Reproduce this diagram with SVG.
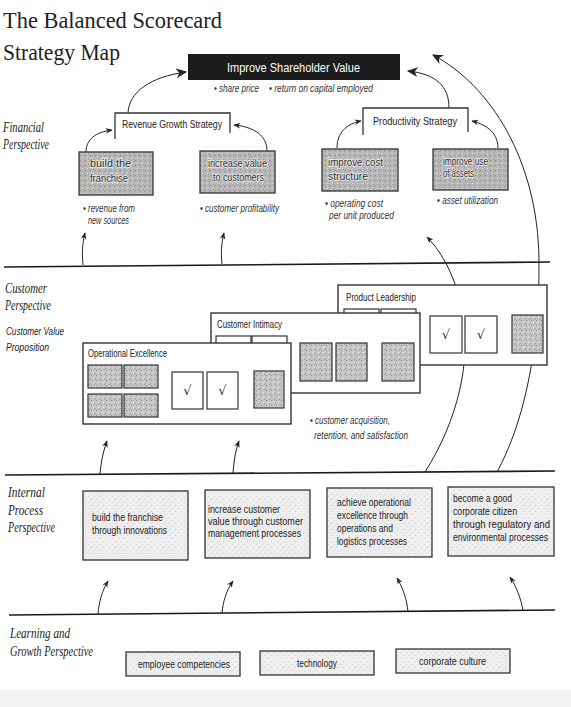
<svg xmlns="http://www.w3.org/2000/svg" width="571" height="707" viewBox="0 0 571 707">
<style>
.ttl{font-family:"Liberation Serif","Times New Roman",serif;font-size:23px;fill:#222}
.persp{font-family:"Liberation Serif","Times New Roman",serif;font-style:italic;font-size:14px;fill:#222}
.cvp{font-family:"Liberation Sans",Arial,sans-serif;font-style:italic;font-size:11px;fill:#222}
.bx{font-family:"Liberation Sans",Arial,sans-serif;font-size:10.5px;fill:#222}
.fin{font-family:"Liberation Sans",Arial,sans-serif;font-size:11px;fill:#2a2a2a;stroke:#eeeeee;stroke-width:1.6px;paint-order:stroke}
.hd{font-family:"Liberation Sans",Arial,sans-serif;font-size:11px;fill:#222}
.sm{font-family:"Liberation Sans",Arial,sans-serif;font-style:italic;font-size:10px;fill:#333}
.cbt{font-family:"Liberation Sans",Arial,sans-serif;font-size:10px;fill:#222}
.chk{font-family:"DejaVu Sans",sans-serif;font-size:13px;fill:#333}
.sep{stroke:#1a1a1a;stroke-width:1.6;fill:none}
.con{stroke:#222;stroke-width:1;fill:none}
.big{marker-end:url(#ah)}
.small{marker-end:url(#as)}
.frame{fill:#fff;stroke:#333;stroke-width:1.4}
.dark{fill:url(#dk);stroke:#333;stroke-width:1.3}
.mid{fill:url(#md);stroke:#333;stroke-width:1.2}
.light{fill:url(#lt);stroke:#333;stroke-width:1.3}
.ck{fill:#fff;stroke:#333;stroke-width:1.2}
.brk{fill:none;stroke:#333;stroke-width:1.3}
</style>
<defs>
<pattern id="dk" width="5" height="5" patternUnits="userSpaceOnUse">
<rect width="5" height="5" fill="#b8b8b8"/><rect x="0" y="0" width="1" height="1" fill="#888"/><rect x="2" y="3" width="1" height="1" fill="#dadada"/><rect x="4" y="1" width="1" height="1" fill="#999"/><rect x="3" y="4" width="1" height="1" fill="#9a9a9a"/></pattern>
<pattern id="md" width="5" height="5" patternUnits="userSpaceOnUse">
<rect width="5" height="5" fill="#c6c6c6"/><rect x="1" y="0" width="1" height="1" fill="#8e8e8e"/><rect x="3" y="2" width="1" height="1" fill="#e6e6e6"/><rect x="0" y="3" width="1" height="1" fill="#a0a0a0"/><rect x="4" y="4" width="1" height="1" fill="#9b9b9b"/></pattern>
<pattern id="lt" width="6" height="6" patternUnits="userSpaceOnUse">
<rect width="6" height="6" fill="#eeeeee"/><rect x="1" y="1" width="1" height="1" fill="#cfcfcf"/><rect x="4" y="4" width="1" height="1" fill="#d6d6d6"/></pattern>
<marker id="ah" viewBox="0 0 10 10" refX="9" refY="5" markerWidth="11" markerHeight="11" markerUnits="userSpaceOnUse" orient="auto"><path d="M0,0.5 L10,5 L0,9.5 L3,5 z" fill="#222"/></marker>
<marker id="as" viewBox="0 0 10 10" refX="9" refY="5" markerWidth="7" markerHeight="7" markerUnits="userSpaceOnUse" orient="auto"><path d="M0,1 L10,5 L0,9 L3,5 z" fill="#222"/></marker>
</defs>
<rect width="571" height="707" fill="#ffffff"/>
<rect x="0" y="690" width="571" height="17" fill="#f1f3f3"/>

<g id="title">
<text class="ttl" x="3" y="28" textLength="219" lengthAdjust="spacingAndGlyphs">The Balanced Scorecard</text>
<text class="ttl" x="3" y="60" textLength="117" lengthAdjust="spacingAndGlyphs">Strategy Map</text>
</g>

<g id="perspectives">
<path class="sep" d="M4,267 L550,262"/>
<path class="sep" d="M5,475 L555,471"/>
<path class="sep" d="M9,615 L555,610"/>
<text class="persp" x="3" y="132" textLength="41" lengthAdjust="spacingAndGlyphs">Financial</text>
<text class="persp" x="3" y="149" textLength="46" lengthAdjust="spacingAndGlyphs">Perspective</text>
<text class="persp" x="5" y="293" textLength="42" lengthAdjust="spacingAndGlyphs">Customer</text>
<text class="persp" x="5" y="310" textLength="46" lengthAdjust="spacingAndGlyphs">Perspective</text>
<text class="cvp" x="6" y="335" textLength="58" lengthAdjust="spacingAndGlyphs">Customer Value</text>
<text class="cvp" x="6" y="351" textLength="43" lengthAdjust="spacingAndGlyphs">Proposition</text>
<text class="persp" x="8" y="497" textLength="37" lengthAdjust="spacingAndGlyphs">Internal</text>
<text class="persp" x="8" y="515" textLength="35" lengthAdjust="spacingAndGlyphs">Process</text>
<text class="persp" x="8" y="532" textLength="47" lengthAdjust="spacingAndGlyphs">Perspective</text>
<text class="persp" x="10" y="638" textLength="60" lengthAdjust="spacingAndGlyphs">Learning and</text>
<text class="persp" x="10" y="656" textLength="83" lengthAdjust="spacingAndGlyphs">Growth Perspective</text>
</g>

<g id="connectors">
<path class="con big" d="M128,113 C129,92 150,77 186,72"/>
<path class="con big" d="M449,108 C449,86 436,74 408,71"/>
<path class="con big" d="M497,472 C520,430 540,360 539,260 C538,160 490,85 433,55"/>
<path class="con small" d="M425,472 C458,420 472,360 462,310 C456,278 442,252 427,237"/>
<path class="con small" d="M86,152 C86,139 96,132 112,130"/>
<path class="con small" d="M267,151 C267,136 255,127 234,125"/>
<path class="con small" d="M337,148 C337,133 346,124 361,121"/>
<path class="con small" d="M498,148 C498,134 488,125 472,121"/>
<path class="con small" d="M83,265 C82,255 82,245 85,233"/>
<path class="con small" d="M222,264 C221,255 221,245 224,233"/>
<path class="con small" d="M100,474 C101,462 103,452 107,441"/>
<path class="con small" d="M233,473 C234,462 235,452 239,441"/>
<path class="con small" d="M98,614 C99,602 102,591 108,581"/>
<path class="con small" d="M222,613 C223,602 226,591 233,581"/>
<path class="con small" d="M408,612 C407,600 403,588 397,578"/>
<path class="con small" d="M523,611 C521,598 516,586 510,577"/>
</g>

<g id="shareholder-value">
<rect x="188" y="54" width="212" height="26" fill="#1c1c1c"/>
<text x="227" y="72" font-family="'Liberation Sans',Arial,sans-serif" font-size="13" fill="#fff" textLength="133" lengthAdjust="spacingAndGlyphs">Improve Shareholder Value</text>
<text class="sm" x="214" y="92" textLength="45" lengthAdjust="spacingAndGlyphs">• share price</text>
<text class="sm" x="269" y="92" textLength="104" lengthAdjust="spacingAndGlyphs">• return on capital employed</text>
</g>

<g id="revenue-growth">
<path class="brk" d="M115,139 L115,113 L230,113 L230,133"/>
<text class="hd" x="122" y="128" textLength="100" lengthAdjust="spacingAndGlyphs">Revenue Growth Strategy</text>
</g>

<g id="productivity">
<path class="brk" d="M363,135 L363,108 L468,108 L468,132"/>
<text class="hd" x="373" y="125" textLength="84" lengthAdjust="spacingAndGlyphs">Productivity Strategy</text>
</g>

<g id="build-franchise">
<rect class="dark" x="79" y="152" width="74" height="43"/>
<text class="fin" x="90" y="167" textLength="41" lengthAdjust="spacingAndGlyphs">build the</text>
<text class="fin" x="90" y="182" textLength="38" lengthAdjust="spacingAndGlyphs">franchise</text>
<text class="sm" x="83" y="212" textLength="52" lengthAdjust="spacingAndGlyphs">• revenue from</text>
<text class="sm" x="88" y="224" textLength="41" lengthAdjust="spacingAndGlyphs">new sources</text>
</g>

<g id="increase-value">
<rect class="dark" x="200" y="151" width="75" height="42"/>
<text class="fin" x="208" y="167" textLength="59" lengthAdjust="spacingAndGlyphs">increase value</text>
<text class="fin" x="213" y="181" textLength="51" lengthAdjust="spacingAndGlyphs">to customers</text>
<text class="sm" x="200" y="212" textLength="79" lengthAdjust="spacingAndGlyphs">• customer profitability</text>
</g>

<g id="improve-cost">
<rect class="dark" x="322" y="149" width="76" height="42"/>
<text class="fin" x="328" y="166" textLength="55" lengthAdjust="spacingAndGlyphs">improve cost</text>
<text class="fin" x="328" y="180" textLength="40" lengthAdjust="spacingAndGlyphs">structure</text>
<text class="sm" x="325" y="207" textLength="58" lengthAdjust="spacingAndGlyphs">• operating cost</text>
<text class="sm" x="329" y="219" textLength="65" lengthAdjust="spacingAndGlyphs">per unit produced</text>
</g>

<g id="improve-assets">
<rect class="dark" x="433" y="149" width="75" height="41"/>
<text class="fin" x="443" y="165" textLength="45" lengthAdjust="spacingAndGlyphs">improve use</text>
<text class="fin" x="443" y="177" textLength="31" lengthAdjust="spacingAndGlyphs">of assets</text>
<text class="sm" x="437" y="204" textLength="61" lengthAdjust="spacingAndGlyphs">• asset utilization</text>
</g>

<g id="product-leadership">
<rect class="frame" x="338" y="285" width="209" height="80"/>
<text class="cbt" x="346" y="301" textLength="70" lengthAdjust="spacingAndGlyphs">Product  Leadership</text>
<rect class="ck" x="344" y="309" width="35" height="20"/>
<rect class="ck" x="381" y="309" width="35" height="20"/>
<rect class="ck" x="430" y="316" width="32" height="37"/>
<text class="chk" x="446" y="339" text-anchor="middle">√</text>
<rect class="ck" x="465" y="316" width="32" height="37"/>
<text class="chk" x="481" y="339" text-anchor="middle">√</text>
<rect class="mid" x="512" y="315" width="31" height="38"/>
</g>

<g id="customer-intimacy">
<rect class="frame" x="211" y="313" width="209" height="80"/>
<text class="cbt" x="217" y="328" textLength="65" lengthAdjust="spacingAndGlyphs">Customer Intimacy</text>
<rect class="ck" x="216" y="336" width="35" height="20"/>
<rect class="ck" x="252" y="336" width="35" height="20"/>
<rect class="mid" x="300" y="343" width="32" height="38"/>
<rect class="mid" x="336" y="343" width="31" height="38"/>
<rect class="mid" x="382" y="343" width="32" height="38"/>
</g>

<g id="operational-excellence">
<rect class="frame" x="83" y="343" width="208" height="81"/>
<text class="cbt" x="88" y="357" textLength="79" lengthAdjust="spacingAndGlyphs">Operational Excellence</text>
<rect class="mid" x="88" y="365" width="34" height="23"/>
<rect class="mid" x="124" y="365" width="34" height="23"/>
<rect class="mid" x="88" y="394" width="34" height="23"/>
<rect class="mid" x="124" y="394" width="34" height="23"/>
<rect class="ck" x="172" y="372" width="31" height="37"/>
<text class="chk" x="187.5" y="395" text-anchor="middle">√</text>
<rect class="ck" x="207" y="372" width="31" height="37"/>
<text class="chk" x="222.5" y="395" text-anchor="middle">√</text>
<rect class="mid" x="254" y="371" width="30" height="37"/>
</g>

<g id="customer-measures">
<text class="sm" x="310" y="424" textLength="80" lengthAdjust="spacingAndGlyphs">• customer acquisition,</text>
<text class="sm" x="314" y="439" textLength="94" lengthAdjust="spacingAndGlyphs">retention, and satisfaction</text>
</g>

<g id="ip-innovation">
<rect class="light" x="83" y="491" width="105" height="69"/>
<text class="bx" x="92" y="521" textLength="71" lengthAdjust="spacingAndGlyphs">build the franchise</text>
<text class="bx" x="92" y="534" textLength="75" lengthAdjust="spacingAndGlyphs">through innovations</text>
</g>

<g id="ip-customer-mgmt">
<rect class="light" x="205" y="490" width="105" height="68"/>
<text class="bx" x="208" y="513" textLength="72" lengthAdjust="spacingAndGlyphs">increase customer</text>
<text class="bx" x="208" y="525" textLength="95" lengthAdjust="spacingAndGlyphs">value through customer</text>
<text class="bx" x="208" y="537" textLength="93" lengthAdjust="spacingAndGlyphs">management processes</text>
</g>

<g id="ip-operations">
<rect class="light" x="327" y="488" width="105" height="69"/>
<text class="bx" x="337" y="506" textLength="74" lengthAdjust="spacingAndGlyphs">achieve operational</text>
<text class="bx" x="337" y="519" textLength="71" lengthAdjust="spacingAndGlyphs">excellence through</text>
<text class="bx" x="337" y="532" textLength="56" lengthAdjust="spacingAndGlyphs">operations and</text>
<text class="bx" x="337" y="545" textLength="70" lengthAdjust="spacingAndGlyphs">logistics processes</text>
</g>

<g id="ip-citizen">
<rect class="light" x="448" y="487" width="106" height="69"/>
<text class="bx" x="453" y="502" textLength="59" lengthAdjust="spacingAndGlyphs">become a good</text>
<text class="bx" x="453" y="515" textLength="64" lengthAdjust="spacingAndGlyphs">corporate citizen</text>
<text class="bx" x="453" y="528" textLength="97" lengthAdjust="spacingAndGlyphs">through regulatory and</text>
<text class="bx" x="453" y="541" textLength="95" lengthAdjust="spacingAndGlyphs">environmental processes</text>
</g>

<g id="lg-employee">
<rect class="light" x="126" y="652" width="114" height="24"/>
<text class="bx" x="138" y="668" textLength="92" lengthAdjust="spacingAndGlyphs">employee competencies</text>
</g>
<g id="lg-technology">
<rect class="light" x="260" y="651" width="114" height="24"/>
<text class="bx" x="297" y="667" textLength="40" lengthAdjust="spacingAndGlyphs">technology</text>
</g>
<g id="lg-culture">
<rect class="light" x="396" y="649" width="114" height="24"/>
<text class="bx" x="419" y="665" textLength="67" lengthAdjust="spacingAndGlyphs">corporate culture</text>
</g>
</svg>
